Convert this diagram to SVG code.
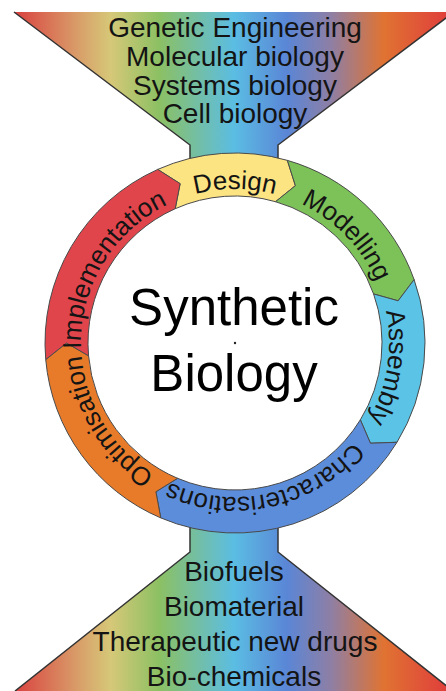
<svg xmlns="http://www.w3.org/2000/svg" width="446" height="691" viewBox="0 0 446 691">
  <defs>
    <linearGradient id="spectrum" gradientUnits="userSpaceOnUse" x1="14" y1="0" x2="454" y2="0">
      <stop offset="0" stop-color="#d9413f"/>
      <stop offset="0.14" stop-color="#d99a68"/>
      <stop offset="0.22" stop-color="#d6c878"/>
      <stop offset="0.33" stop-color="#8cc063"/>
      <stop offset="0.50" stop-color="#5bbde3"/>
      <stop offset="0.62" stop-color="#5a86d6"/>
      <stop offset="0.72" stop-color="#8e7fa5"/>
      <stop offset="0.84" stop-color="#e07332"/>
      <stop offset="1" stop-color="#e0393c"/>
    </linearGradient>
    <!-- clockwise baseline arcs (r = 154) centred on each label -->
    <path id="arc-design" d="M 90.29 290.33 A 154 154 0 0 1 379.71 290.33"/>
    <path id="arc-modelling" d="M 172.36 202.31 A 154 154 0 0 1 373.41 410.51"/>
    <path id="arc-assembly" d="M 309.66 208.31 A 154 154 0 0 1 264.38 494.17"/>
    <path id="arc-character" d="M 387.68 363.10 A 154 154 0 0 1 105.12 425.74"/>
    <path id="arc-optim" d="M 265.70 493.91 A 154 154 0 0 1 114.48 247.13"/>
    <path id="arc-impl" d="M 115.32 439.92 A 154 154 0 0 1 264.38 191.83"/>
  </defs>
  <style>
    .funnel { fill: url(#spectrum); stroke: none; }
    .edge { fill: none; stroke: #333; stroke-width: 1.5; stroke-linejoin: miter; }
    .seg { stroke: #4a4a4a; stroke-width: 1; stroke-linejoin: miter; }
    .list { font-family: "Liberation Sans", Arial, sans-serif; font-size: 28px; fill: #141414; text-anchor: middle; }
    .step { font-family: "Liberation Sans", Arial, sans-serif; font-size: 26px; fill: #141414; text-anchor: middle; }
    .title { font-family: "Liberation Sans", Arial, sans-serif; font-size: 51px; fill: #000; text-anchor: middle; }
  </style>

  <rect width="446" height="691" fill="#ffffff"/>

  <!-- upper funnel: fields feeding in -->
  <g id="inputs">
    <polygon class="funnel" points="14,12 454,12 278,145 278,170 190,170 190,145"/>
    <polyline class="edge" points="14,12 190,145 190,170"/>
    <polyline class="edge" points="454,12 278,145 278,170"/>
    <text class="list" x="235" y="37">Genetic Engineering</text>
    <text class="list" x="235" y="66">Molecular biology</text>
    <text class="list" x="235" y="95">Systems biology</text>
    <text class="list" x="235" y="123">Cell biology</text>
  </g>

  <!-- lower funnel: applications coming out -->
  <g id="outputs">
    <polygon class="funnel" points="190,515 278,515 278,552 453,691 15,691 190,552"/>
    <polyline class="edge" points="190,515 190,552 15,691"/>
    <polyline class="edge" points="278,515 278,552 453,691"/>
    <text class="list" x="234" y="581">Biofuels</text>
    <text class="list" x="234" y="616">Biomaterial</text>
    <text class="list" x="235" y="651">Therapeutic new drugs</text>
    <text class="list" x="234" y="686">Bio-chemicals</text>
  </g>

  <!-- ring of design cycle stages -->
  <g id="cycle">
    <circle cx="235" cy="343" r="147" fill="#ffffff"/>
    <g id="design">
      <path class="seg" fill="#fde482" d="M 157.72 169.43 A 190 190 0 0 1 287.37 160.36 L 295.38 185.69 L 275.52 201.69 A 147 147 0 0 0 175.21 208.71 L 180.14 183.68 Z"/>
      <text class="step"><textPath href="#arc-design" startOffset="50%">Design</textPath></text>
    </g>
    <g id="modelling">
      <path class="seg" fill="#7dc159" d="M 287.37 160.36 A 190 190 0 0 1 414.10 279.58 L 398.13 300.81 L 373.57 293.93 A 147 147 0 0 0 275.52 201.69 L 295.38 185.69 Z"/>
      <text class="step"><textPath href="#arc-modelling" startOffset="50%">Modelling</textPath></text>
    </g>
    <g id="assembly">
      <path class="seg" fill="#5bc3e6" d="M 414.10 279.58 A 190 190 0 0 1 397.00 442.28 L 370.45 443.23 L 360.34 419.81 A 147 147 0 0 0 373.57 293.93 L 398.13 300.81 Z"/>
      <text class="step"><textPath href="#arc-assembly" startOffset="50%">Assembly</textPath></text>
    </g>
    <g id="characterisations">
      <path class="seg" fill="#5b8ddb" d="M 397.00 442.28 A 190 190 0 0 1 160.76 517.90 L 155.89 491.78 L 177.56 478.31 A 147 147 0 0 0 360.34 419.81 L 370.45 443.23 Z"/>
      <text class="step"><textPath href="#arc-character" startOffset="50%">Characterisations</textPath></text>
    </g>
    <g id="optimisation">
      <path class="seg" fill="#e87b2a" d="M 160.76 517.90 A 190 190 0 0 1 45.72 359.56 L 66.5 343 L 88.56 355.81 A 147 147 0 0 0 177.56 478.31 L 155.89 491.78 Z"/>
      <text class="step"><textPath href="#arc-optim" startOffset="50%">Optimisation</textPath></text>
    </g>
    <g id="implementation">
      <path class="seg" fill="#e1454c" d="M 45.72 359.56 A 190 190 0 0 1 157.72 169.43 L 180.14 183.68 L 175.21 208.71 A 147 147 0 0 0 88.56 355.81 L 66.5 343 Z"/>
      <text class="step"><textPath href="#arc-impl" startOffset="50%">Implementation</textPath></text>
    </g>
  </g>

  <!-- centre title -->
  <g id="title">
    <text class="title" x="234" y="325">Synthetic</text>
    <text class="title" x="234" y="391">Biology</text>
    <circle cx="235" cy="343" r="1.2" fill="#222"/>
  </g>
</svg>
